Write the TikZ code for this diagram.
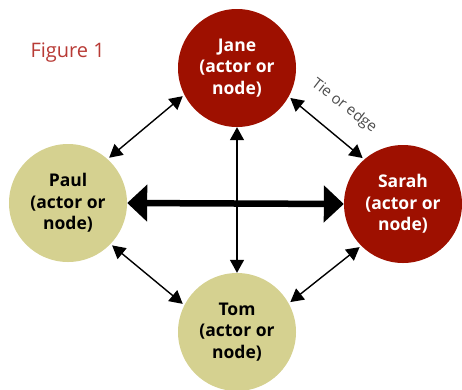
\documentclass[tikz,border=0pt]{standalone}
\usepackage{fontspec}
\setmainfont{Open Sans}
\usepackage{tikz}
\usetikzlibrary{arrows.meta}
\newdimen\actorD
\setlength{\actorD}{118pt}
\definecolor{actorred}{HTML}{9E1000}
\definecolor{actorkhaki}{HTML}{D5D190}
\definecolor{figred}{HTML}{B83A35}
\definecolor{tiegray}{gray}{0.3}

\begin{document}
\begin{tikzpicture}[x=1pt, y=-1pt,
    actor/.style={circle, minimum size=\actorD, inner sep=0pt, align=center,
      font=\fontsize{17.5}{21.5}\selectfont\bfseries},
    redactor/.style={actor, fill=actorred, text=white},
    paleactor/.style={actor, fill=actorkhaki, text=black},
    tie/.style={{Triangle[length=13pt,width=14pt]}-{Triangle[length=13pt,width=14pt]},
      line width=1.4pt, shorten <=2pt, shorten >=2pt},
    strongtie/.style={{Triangle[length=20pt,width=36pt]}-{Triangle[length=20pt,width=36pt]},
      line width=6.5pt},
  ]
  \useasboundingbox (0,0) rectangle (462,389);
  % actors
  \node[redactor] (jane) at (237,68) {Jane\\(actor or\\node)};
  \node[paleactor] (paul) at (68,203) {Paul\\(actor or\\node)};
  \node[redactor] (sarah) at (403,204) {Sarah\\(actor or\\node)};
  \node[paleactor] (tom) at (237,332) {Tom\\(actor or\\node)};
  % ties
  \draw[tie] (paul.48) -- (jane.207);
  \draw[tie] (jane.331) -- (sarah.131);
  \draw[tie] (paul.316) -- (tom.153);
  \draw[tie] (sarah.225) -- (tom.29);
  \draw[tie, shorten <=0pt, shorten >=0pt] (jane.south) -- (tom.north);
  \draw[strongtie] (paul.east) -- (sarah.west);
  % labels
  \node[anchor=base west, text=figred, font=\fontsize{20}{24}\selectfont] (fig) at (27,57) {Figure 1};
  \node[rotate=-38, text=tiegray, font=\fontsize{15}{18}\selectfont] (tielabel) at (344,106) {Tie or edge};
\end{tikzpicture}
\end{document}
